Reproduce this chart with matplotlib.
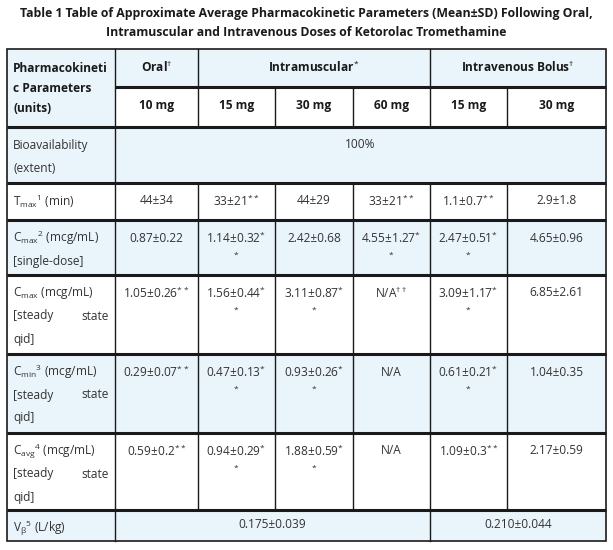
import matplotlib
matplotlib.use("Agg")
import matplotlib.pyplot as plt
from matplotlib.patches import Rectangle

plt.rcParams["font.family"] = "Open Sans"
plt.rcParams["mathtext.fontset"] = "custom"
plt.rcParams["mathtext.rm"] = "Open Sans"
plt.rcParams["mathtext.it"] = "Open Sans"

title_lines = ["Table 1 Table of Approximate Average Pharmacokinetic Parameters (Mean±SD) Following Oral,",
               "Intramuscular and Intravenous Doses of Ketorolac Tromethamine"]
groups = [("Oral$^{\\dagger}$", 1, 2), ("Intramuscular$^{*}$", 2, 5), ("Intravenous Bolus$^{\\dagger}$", 5, 7)]
doses = ["10 mg", "15 mg", "30 mg", "60 mg", "15 mg", "30 mg"]
row_labels = [
    ["Bioavailability", "(extent)"],
    ["T$_{max}$$^{1}$ (min)"],
    ["C$_{max}$$^{2}$ (mcg/mL)", "[single-dose]"],
    ["C$_{max}$ (mcg/mL)", "J", "qid]"],
    ["C$_{min}$$^{3}$ (mcg/mL)", "J", "qid]"],
    ["C$_{avg}$$^{4}$ (mcg/mL)", "J", "qid]"],
    ["V$_{\\beta}$$^{5}$ (L/kg)"],
]
tmax = ["44±34", "33±21**", "44±29", "33±21**", "1.1±0.7**", "2.9±1.8"]
cmax_single = ["0.87±0.22", "1.14±0.32*|*", "2.42±0.68", "4.55±1.27*|*", "2.47±0.51*|*", "4.65±0.96"]
cmax_ss = ["1.05±0.26**", "1.56±0.44*|*", "3.11±0.87*|*", "N/A††", "3.09±1.17*|*", "6.85±2.61"]
cmin_ss = ["0.29±0.07**", "0.47±0.13*|*", "0.93±0.26*|*", "N/A", "0.61±0.21*|*", "1.04±0.35"]
cavg_ss = ["0.59±0.2**", "0.94±0.29*|*", "1.88±0.59*|*", "N/A", "1.09±0.3**", "2.17±0.59"]
bioavail = "100%"
vbeta = [("0.175±0.039", 1, 5), ("0.210±0.044", 5, 7)]

xs = [7, 115, 198, 275, 353, 430, 507, 606]
ys = [49, 127, 183, 220, 275, 354, 433, 510, 541]
ymid = 87
blue = "#e9f4fb"
dark = "#1a1a1a"
tc = "#333333"
row_bg = [blue, "white", blue, "white", blue, "white", blue]

fig = plt.figure(figsize=(6.13, 5.5), dpi=100)
ax = fig.add_axes([0, 0, 1, 1])
ax.set_xlim(0, 613)
ax.set_ylim(550, 0)
ax.axis("off")

for i, t in enumerate(title_lines):
    ax.text(306, 13 + 20 * i, t, ha="center", va="center", fontsize=8.8,
            fontweight="bold", color=dark)

ax.add_patch(Rectangle((xs[0], ys[0]), xs[1] - xs[0], ys[1] - ys[0], color=blue, lw=0))
ax.add_patch(Rectangle((xs[1], ys[0]), xs[7] - xs[1], ymid - ys[0], color=blue, lw=0))
for r in range(7):
    ax.add_patch(Rectangle((xs[0], ys[r + 1]), xs[7] - xs[0], ys[r + 2] - ys[r + 1], color=row_bg[r], lw=0))

FS = 8.6

def val(x, y, s):
    parts = s.split("|")
    main = parts[0]
    base = main.rstrip("*†")
    sup = main[len(base):]
    if sup:
        sup = sup.replace("†", "\\dagger")
        txt = base + "$^{" + sup + "}$"
    else:
        txt = base
    ax.text(x, y, txt, ha="center", va="center", fontsize=FS, color=tc)
    if len(parts) > 1:
        ax.text(x, y + 20, "$^{*}$", ha="center", va="center", fontsize=FS, color=tc)

ax.text(xs[0] + 6, 68, "Pharmacokineti", ha="left", va="center", fontsize=FS, fontweight="bold", color=dark)
ax.text(xs[0] + 6, 88, "c Parameters", ha="left", va="center", fontsize=FS, fontweight="bold", color=dark)
ax.text(xs[0] + 6, 108, "(units)", ha="left", va="center", fontsize=FS, fontweight="bold", color=dark)
for name, a, b in groups:
    ax.text((xs[a] + xs[b]) / 2, 67, name, ha="center", va="center", fontsize=FS, fontweight="bold", color=dark)
for i, d in enumerate(doses):
    ax.text((xs[i + 1] + xs[i + 2]) / 2, 105, d, ha="center", va="center", fontsize=FS, fontweight="bold", color=dark)

for r, lab in enumerate(row_labels):
    top = ys[r + 1]
    for k, line in enumerate(lab):
        y = top + 18 + 23 * k
        if line == "J":
            ax.text(xs[0] + 6, y, "[steady", ha="left", va="center", fontsize=FS, color=tc)
            ax.text(xs[1] - 6, y, "state", ha="right", va="center", fontsize=FS, color=tc)
        else:
            ax.text(xs[0] + 6, y, line, ha="left", va="center", fontsize=FS, color=tc)

ax.text((xs[1] + xs[7]) / 2, ys[1] + 18, bioavail, ha="center", va="center", fontsize=FS, color=tc)
for r, data in [(1, tmax), (2, cmax_single), (3, cmax_ss), (4, cmin_ss), (5, cavg_ss)]:
    for c, s in enumerate(data):
        val((xs[c + 1] + xs[c + 2]) / 2, ys[r + 1] + 18, s)
for s, a, b in vbeta:
    ax.text((xs[a] + xs[b]) / 2, ys[7] + 15, s, ha="center", va="center", fontsize=FS, color=tc)

for y in ys[1:-1]:
    ax.plot([xs[0], xs[7]], [y, y], color=dark, lw=2.2, solid_capstyle="butt")
ax.plot([xs[1], xs[7]], [ymid, ymid], color=dark, lw=2.2, solid_capstyle="butt")
ax.add_patch(Rectangle((xs[0], ys[0]), xs[7] - xs[0], ys[-1] - ys[0], fill=False, ec=dark, lw=1.2))
ax.plot([xs[1], xs[1]], [ys[0], ys[-1]], color=dark, lw=1)
for x in [xs[2], xs[5]]:
    ax.plot([x, x], [ys[0], ys[1]], color=dark, lw=1)
    ax.plot([x, x], [ys[2], ys[7]], color=dark, lw=1)
ax.plot([xs[5], xs[5]], [ys[7], ys[8]], color=dark, lw=1)
for x in [xs[3], xs[4], xs[6]]:
    ax.plot([x, x], [ymid, ys[1]], color=dark, lw=1)
    ax.plot([x, x], [ys[2], ys[7]], color=dark, lw=1)

fig.savefig("out.png", dpi=100)
